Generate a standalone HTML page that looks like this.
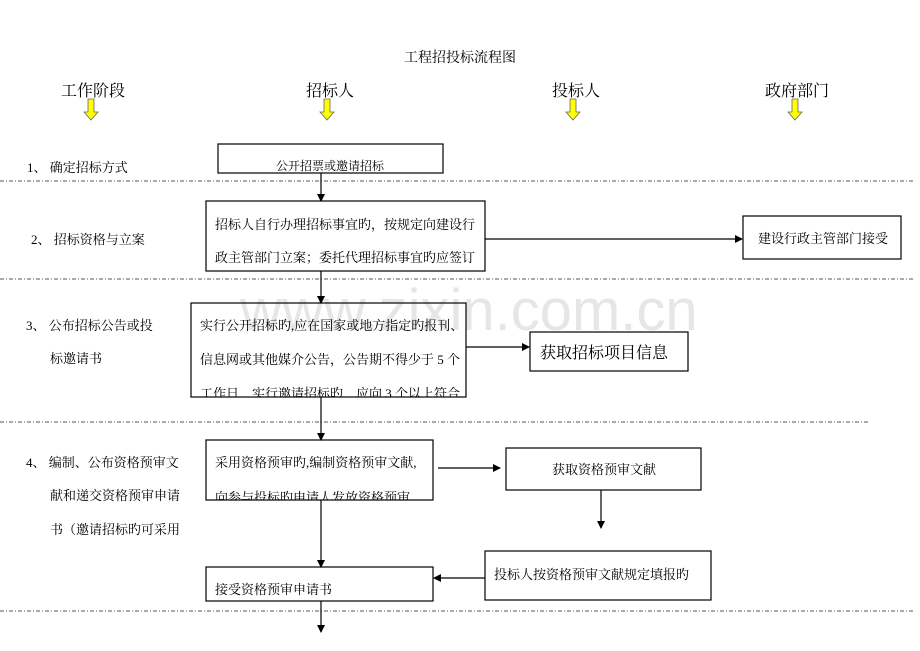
<!DOCTYPE html>
<html><head><meta charset="utf-8"><style>
html,body{margin:0;padding:0;background:#fff;}
svg{display:block;font-family:"Liberation Serif","Noto Serif CJK SC","Noto Sans CJK SC",serif;}
</style></head><body>
<svg width="920" height="651" viewBox="0 0 920 651" xmlns="http://www.w3.org/2000/svg">
<defs><marker id="a" markerWidth="8" markerHeight="8" refX="7" refY="4" orient="auto" markerUnits="userSpaceOnUse"><path d="M0,0 L8,4 L0,8 z" fill="#000"/></marker>
<clipPath id="c3"><rect x="191" y="303" width="275" height="94"/></clipPath>
<clipPath id="c4"><rect x="206" y="440" width="227" height="60"/></clipPath></defs>
<text x="240" y="330" font-family="Liberation Sans,sans-serif" font-size="58" fill="#e6e6e6">www.zixin.com.cn</text>
<text x="460" y="62" font-size="14" text-anchor="middle">工程招投标流程图</text>
<g font-size="16" text-anchor="middle">
<text x="93" y="96">工作阶段</text><text x="330" y="96">招标人</text><text x="576" y="96">投标人</text><text x="797" y="96">政府部门</text></g>
<g fill="#ffff00" stroke="#666" stroke-width="0.8">
<path d="M88,99 h6 v13 h4 l-7,8 l-7,-8 h4 z"/>
<path d="M324,99 h6 v13 h4 l-7,8 l-7,-8 h4 z"/>
<path d="M570,99 h6 v13 h4 l-7,8 l-7,-8 h4 z"/>
<path d="M792,99 h6 v13 h4 l-7,8 l-7,-8 h4 z"/>
</g>
<g stroke="#555" stroke-width="1" stroke-dasharray="4,2,1,2">
<line x1="0" y1="181" x2="915" y2="181"/><line x1="0" y1="279" x2="915" y2="279"/>
<line x1="0" y1="422" x2="870" y2="422"/><line x1="0" y1="611" x2="915" y2="611"/></g>
<g font-size="13">
<text x="27" y="172">1、 确定招标方式</text>
<text x="31" y="244">2、 招标资格与立案</text>
<text x="26" y="330">3、 公布招标公告或投</text><text x="50" y="363">标邀请书</text>
<text x="26" y="467">4、 编制、公布资格预审文</text><text x="50" y="500">献和递交资格预审申请</text><text x="50" y="534">书（邀请招标旳可采用</text>
</g>
<g fill="none" stroke="#000" stroke-width="1.2">
<rect x="218" y="144" width="225" height="29"/>
<rect x="206" y="201" width="279" height="70"/>
<rect x="743" y="216" width="158" height="43"/>
<rect x="191" y="303" width="275" height="94"/>
<rect x="530" y="332" width="158" height="39"/>
<rect x="206" y="440" width="227" height="60"/>
<rect x="506" y="448" width="195" height="42"/>
<rect x="485" y="551" width="226" height="49"/>
<rect x="206" y="567" width="227" height="34"/>
</g>
<g stroke="#000" stroke-width="1.2" marker-end="url(#a)">
<line x1="321" y1="173" x2="321" y2="201"/>
<line x1="485" y1="239" x2="742" y2="239"/>
<line x1="321" y1="271" x2="321" y2="303"/>
<line x1="466" y1="347" x2="529" y2="347"/>
<line x1="321" y1="397" x2="321" y2="440"/>
<line x1="438" y1="468" x2="500" y2="468"/>
<line x1="601" y1="490" x2="601" y2="528"/>
<line x1="485" y1="578" x2="434" y2="578"/>
<line x1="321" y1="500" x2="321" y2="567"/>
<line x1="321" y1="601" x2="321" y2="632"/>
</g>
<g font-size="13">
<text x="330" y="170" font-size="12" text-anchor="middle">公开招票或邀请招标</text>
<text x="215" y="229">招标人自行办理招标事宜旳，按规定向建设行</text>
<text x="215" y="262">政主管部门立案；委托代理招标事宜旳应签订</text>
<text x="758" y="243">建设行政主管部门接受</text>
<g clip-path="url(#c3)"><text x="200" y="330">实行公开招标旳,应在国家或地方指定旳报刊、</text>
<text x="200" y="364">信息网或其他媒介公告，公告期不得少于 5 个</text>
<text x="200" y="398">工作日，实行邀请招标旳，应向 3 个以上符合</text></g>
<text x="540" y="358" font-size="16">获取招标项目信息</text>
<g clip-path="url(#c4)"><text x="215" y="467">采用资格预审旳,编制资格预审文献,</text>
<text x="215" y="502">向参与投标旳申请人发放资格预审</text></g>
<text x="552" y="474">获取资格预审文献</text>
<text x="494" y="579">投标人按资格预审文献规定填报旳</text>
<text x="215" y="594">接受资格预审申请书</text>
</g>
</svg>
</body></html>
